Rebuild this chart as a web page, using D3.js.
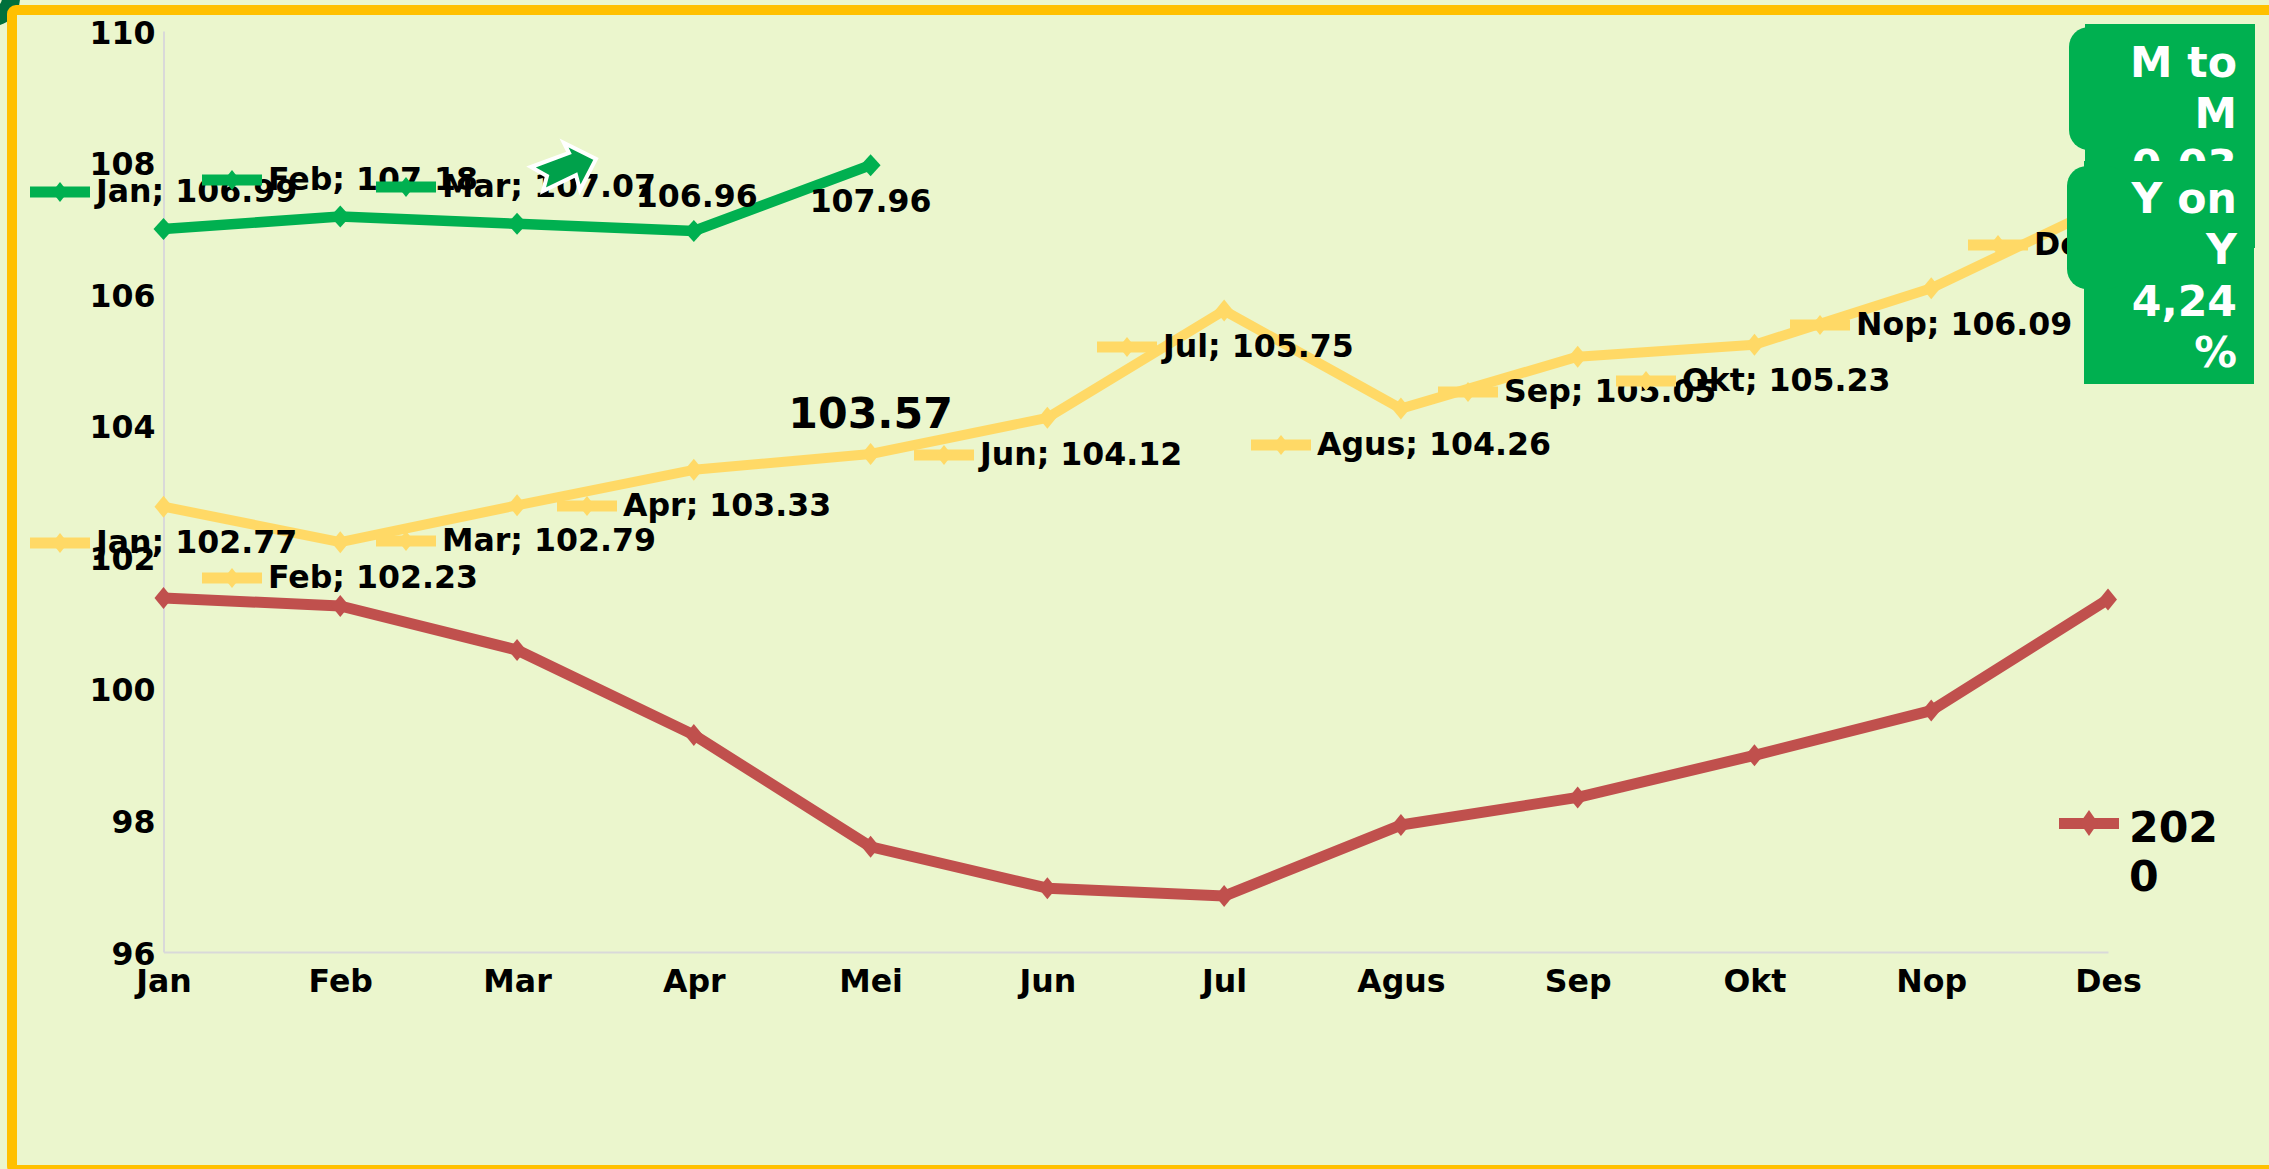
<!DOCTYPE html>
<html><head><meta charset="utf-8">
<script src="https://cdn.jsdelivr.net/npm/d3@7"></script>
<style>html,body{margin:0;padding:0;background:#EBF6CD;overflow:hidden}svg{display:block}text{font-family:"DejaVu Sans";font-weight:bold;fill:#000}</style>
</head><body><svg id="c" width="2269" height="1169"></svg>
<script>
const months=["Jan","Feb","Mar","Apr","Mei","Jun","Jul","Agus","Sep","Okt","Nop","Des"];
const values2020=[101.38,101.26,100.59,99.3,97.6,96.97,96.85,97.93,98.35,98.99,99.67,101.36];
const values2019=[102.77,102.23,102.79,103.33,103.57,104.12,105.75,104.26,105.05,105.23,106.09,107.37];
const values2021=[106.99,107.18,107.07,106.96,107.96];
const yTicks=[96,98,100,102,104,106,108,110];
const keyPlacement2019=[[30,543],[202,578],[376,541],[557,506],null,[914,455],[1097,347],[1251,445],[1438,392],[1616,381],[1790,325],[1968,245]];
const keyPlacement2021=[[30,192],[202,180],[376,187],null,null];
const box1Lines=["M to","M","0,03","%"];
const box2Lines=["Y on","Y","4,24","%"];

const svg=d3.select("#c");
const x=d3.scalePoint().domain(months).range([163.5,2108]);
const y=d3.scaleLinear().domain([96,110]).range([952,31]);
const green="#00B050",yellow="#FFD966",red="#C0504D",axisCol="#D9D9D9";
const FS=31.6,FL=42.67;

svg.append("rect").attr("width",2269).attr("height",1169).attr("fill","#EBF6CD");
svg.append("circle").attr("cx",-8).attr("cy",-2).attr("r",19).attr("fill","none").attr("stroke","#00703C").attr("stroke-width",18);
svg.append("rect").attr("x",12).attr("y",10).attr("width",2400).attr("height",1160).attr("rx",4)
  .attr("fill","#EBF6CD").attr("stroke","#FFC000").attr("stroke-width",10);

const ax=svg.append("g").attr("transform","translate(0,952)").call(d3.axisBottom(x).tickSize(0));
ax.select(".domain").attr("stroke",axisCol).attr("stroke-width",2);
ax.selectAll("text").attr("font-size",FS).attr("dominant-baseline","middle").attr("dy",0).attr("y",31);
const ay=svg.append("g").attr("transform","translate(163.5,0)").call(d3.axisLeft(y).tickValues(yTicks).tickSize(0).tickFormat(d3.format("d")));
ay.select(".domain").attr("stroke",axisCol).attr("stroke-width",2);
ay.selectAll("text").attr("font-size",FS).attr("dominant-baseline","middle").attr("dy",3).attr("x",-8).attr("text-anchor","end");

const diamond=(cx,cy,w,h)=>`M${cx-w/2},${cy}L${cx},${cy-h/2}L${cx+w/2},${cy}L${cx},${cy+h/2}Z`;
function series(vals,color,sw,mw,mh){
  const g=svg.append("g");
  g.append("path").attr("fill","none").attr("stroke",color).attr("stroke-width",sw).attr("stroke-linejoin","round")
   .attr("d",d3.line().x((d,i)=>x(months[i])).y(d=>y(d))(vals));
  g.selectAll("path.m").data(vals).join("path").attr("class","m").attr("fill",color)
   .attr("d",(d,i)=>diamond(x(months[i]),y(d),mw,mh));
}
series(values2020,red,11,18,22);
series(values2019,yellow,10,18,22);
series(values2021,green,10.5,20,22);

function keyed(vals,place,color){
  vals.forEach((v,i)=>{
    if(!place[i])return;
    const [kx,ky]=place[i];
    svg.append("rect").attr("x",kx).attr("y",ky-5.5).attr("width",60).attr("height",11).attr("fill",color);
    svg.append("path").attr("fill",color).attr("d",diamond(kx+30,ky,16,20));
    svg.append("text").attr("x",kx+66).attr("y",ky+1).attr("dominant-baseline","middle").attr("font-size",FS)
      .text(months[i]+"; "+v.toFixed(2));
  });
}
keyed(values2019,keyPlacement2019,yellow);
keyed(values2021,keyPlacement2021,green);

const plain=(v,i,dx,dy,fs)=>svg.append("text").attr("x",x(months[i])+dx).attr("y",y(v)+dy).attr("text-anchor","middle")
  .attr("dominant-baseline","middle").attr("font-size",fs).text(v.toFixed(2));
plain(values2021[3],3,3,-33,FS);
plain(values2021[4],4,0,38,FS);
plain(values2019[4],4,0,-38,FL);

svg.append("path").attr("d","M531,167L569,153L564,143L596,159L580,190L576,175L543,191L547,176Z")
  .attr("fill","#00A14B").attr("stroke","#fff").attr("stroke-width",4).attr("stroke-linejoin","miter");

svg.append("rect").attr("x",2059).attr("y",818).attr("width",60).attr("height",11).attr("fill",red);
svg.append("path").attr("fill",red).attr("d",diamond(2089,823,18,26));
svg.append("text").attr("x",2129).attr("y",842).attr("font-size",FL).text("202");
svg.append("text").attr("x",2129).attr("y",891).attr("font-size",FL).text("0");

function box(rx,ry,rh,bx,by,bw,bh,lines,base){
  svg.append("rect").attr("x",bx).attr("y",by).attr("width",bw).attr("height",bh).attr("fill",green);
  svg.append("rect").attr("x",rx).attr("y",ry).attr("width",60).attr("height",rh).attr("rx",20).attr("fill",green);
  lines.forEach((t,i)=>svg.append("text").attr("x",2237).attr("y",base+i*51.3).attr("text-anchor","end")
    .attr("font-size",FL).style("fill","#fff").text(t));
}
box(2069,27,123,2085,24,170,224,box1Lines,77);
box(2067,166,123,2084,161,170,223,box2Lines,213);
</script></body></html>
